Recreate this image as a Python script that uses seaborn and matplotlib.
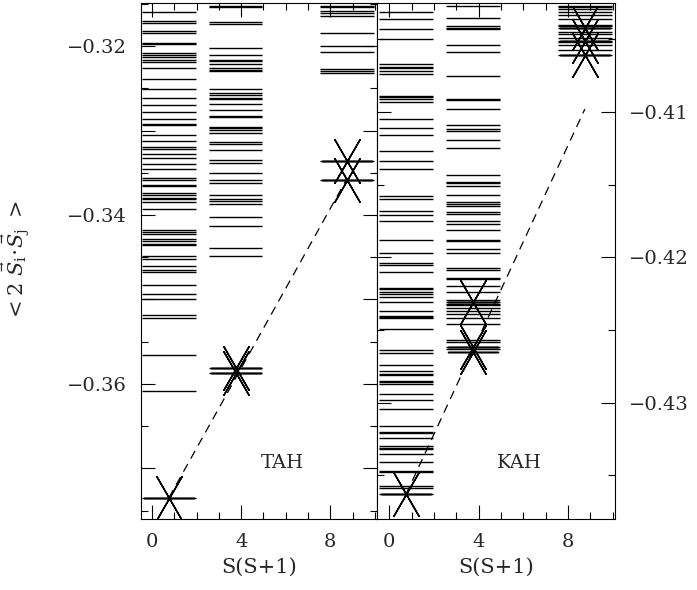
import numpy as np
import pandas as pd
import matplotlib
matplotlib.use('Agg')
import matplotlib.pyplot as plt
from matplotlib.ticker import MultipleLocator
import seaborn as sns

# S(S+1) for S = 1/2, 3/2, 5/2
ss1 = [0.75, 3.75, 8.75]

# energy levels <2 Si.Sj>, TAH (left panel)
tah_s0 = [-0.3160, -0.3170, -0.3173, -0.3182, -0.3185, -0.3196, -0.3197, -0.3208, -0.3211,
          -0.3213, -0.3217, -0.3219, -0.3226, -0.3239, -0.3251, -0.3261, -0.3270, -0.3278,
          -0.3286, -0.3292, -0.3294, -0.3305, -0.3312, -0.3320, -0.3322, -0.3328, -0.3332,
          -0.3340, -0.3346, -0.3356, -0.3359, -0.3364, -0.3366, -0.3374, -0.3376, -0.3380,
          -0.3381, -0.3385, -0.3393, -0.3418, -0.3420, -0.3423, -0.3429, -0.3431, -0.3434,
          -0.3436, -0.3449, -0.3452, -0.3461, -0.3465, -0.3467, -0.3483, -0.3493, -0.3500,
          -0.3518, -0.3522, -0.3566, -0.3608, -0.3735]
tah_s1 = [-0.3152, -0.3154, -0.3172, -0.3174, -0.3202, -0.3210, -0.3216, -0.3218, -0.3221,
          -0.3226, -0.3228, -0.3230, -0.3251, -0.3255, -0.3258, -0.3261, -0.3263, -0.3269,
          -0.3276, -0.3283, -0.3284, -0.3296, -0.3297, -0.3299, -0.3303, -0.3314, -0.3316,
          -0.3323, -0.3335, -0.3339, -0.3350, -0.3359, -0.3362, -0.3376, -0.3381, -0.3383,
          -0.3387, -0.3402, -0.3413, -0.3439, -0.3448, -0.3581, -0.3587]
tah_s2 = [-0.3152, -0.3154, -0.3158, -0.3161, -0.3164, -0.3185, -0.3200, -0.3207, -0.3227,
          -0.3230, -0.3232, -0.3336, -0.3359]

# energy levels, KAH (right panel)
kah_s0 = [-0.4031, -0.4036, -0.4043, -0.4050, -0.4067, -0.4069, -0.4070, -0.4072, -0.4074,
          -0.4089, -0.4090, -0.4091, -0.4093, -0.4105, -0.4111, -0.4116, -0.4127, -0.4134,
          -0.4139, -0.4158, -0.4160, -0.4168, -0.4171, -0.4175, -0.4188, -0.4197, -0.4204,
          -0.4205, -0.4210, -0.4221, -0.4222, -0.4224, -0.4225, -0.4227, -0.4231, -0.4237,
          -0.4240, -0.4241, -0.4242, -0.4249, -0.4264, -0.4266, -0.4274, -0.4278, -0.4280,
          -0.4281, -0.4285, -0.4286, -0.4287, -0.4294, -0.4298, -0.4304, -0.4316, -0.4320,
          -0.4321, -0.4324, -0.4330, -0.4331, -0.4332, -0.4335, -0.4341, -0.4347, -0.4348,
          -0.4357, -0.4359, -0.4363]
kah_s1 = [-0.4027, -0.4035, -0.4041, -0.4042, -0.4043, -0.4054, -0.4059, -0.4075, -0.4091,
          -0.4092, -0.4098, -0.4109, -0.4112, -0.4113, -0.4119, -0.4125, -0.4143, -0.4148,
          -0.4149, -0.4151, -0.4157, -0.4162, -0.4163, -0.4165, -0.4169, -0.4170, -0.4175,
          -0.4177, -0.4181, -0.4188, -0.4189, -0.4194, -0.4197, -0.4207, -0.4209, -0.4214,
          -0.4215, -0.4220, -0.4224, -0.4229, -0.4231, -0.4232, -0.4233, -0.4235, -0.4237,
          -0.4239, -0.4242, -0.4246, -0.4257, -0.4258, -0.4262, -0.4263]
kah_s2 = [-0.4027, -0.4028, -0.4029, -0.4031, -0.4033, -0.4036, -0.4040, -0.4041, -0.4042,
          -0.4045, -0.4046, -0.4049, -0.4051, -0.4052, -0.4054, -0.4057, -0.4061]

# lowest level of each S (stars)
tah_star_x = [0.75, 3.75, 3.75, 8.75, 8.75]
tah_star_y = [-0.3735, -0.3581, -0.3587, -0.3336, -0.3359]
kah_star_x = [0.75, 3.75, 3.75, 3.75, 8.75, 8.75, 8.75]
kah_star_y = [-0.4363, -0.4231, -0.4262, -0.4265, -0.4042, -0.4051, -0.4061]

# dashed lines
tah_line_x = [0.75, 8.75]
tah_line_y = [-0.3735, -0.3357]
kah_line_x = [0.75, 8.75]
kah_line_y = [-0.4363, -0.4098]

tah_yticks = [-0.37, -0.36, -0.35, -0.34, -0.33, -0.32]
tah_yticklabels = ['', '\u22120.36', '', '\u22120.34', '', '\u22120.32']
kah_yticks = [-0.43, -0.42, -0.41]
kah_yticklabels = ['\u22120.43', '\u22120.42', '\u22120.41']
xticks = [0, 4, 8]
xticklabels = ['0', '4', '8']

sns.set_style('ticks')
plt.rcParams['font.family'] = ['DejaVu Serif']
plt.rcParams['mathtext.fontset'] = 'dejavuserif'

fig = plt.figure(figsize=(6.97, 5.9), dpi=100)
ax1 = fig.add_axes([141 / 697, 1 - 519 / 590, 236 / 697, 516 / 590])
ax2 = fig.add_axes([377 / 697, 1 - 519 / 590, 238 / 697, 516 / 590])

star = (6, 2, 30)
halfw = 1.2

panels = [
    (ax1, [tah_s0, tah_s1, tah_s2], tah_star_x, tah_star_y, tah_line_x, tah_line_y, 'TAH'),
    (ax2, [kah_s0, kah_s1, kah_s2], kah_star_x, kah_star_y, kah_line_x, kah_line_y, 'KAH'),
]

for ax, groups, sx, sy, lx, ly, name in panels:
    for xc, lev in zip(ss1, groups):
        ax.hlines(lev, xc - halfw, xc + halfw, color='black', lw=1.0)
    sns.scatterplot(x=sx, y=sy, ax=ax, marker=star, s=1296, color='black',
                    edgecolor='black', linewidth=1.1, zorder=3)
    sns.lineplot(x=lx, y=ly, ax=ax, color='black', lw=0.9, linestyle=(0, (7, 5)))
    ax.text(0.6, 0.108, name, transform=ax.transAxes, ha='center', va='center',
            fontsize=14)
    ax.set_xlim(-0.5, 10.1)
    ax.set_xticks(xticks, labels=xticklabels)
    ax.xaxis.set_minor_locator(MultipleLocator(1))
    ax.set_xlabel('S(S+1)', fontsize=15, labelpad=5)
    ax.tick_params(which='both', direction='in', top=True, bottom=True,
                   left=True, right=True, labelsize=14, color='black', width=0.8)
    ax.tick_params(which='major', length=10, pad=10)
    ax.tick_params(which='minor', length=5)
    ax.yaxis.set_minor_locator(MultipleLocator(0.005))
    for sp in ax.spines.values():
        sp.set_color('black')
        sp.set_linewidth(0.8)

ax1.set_ylim(-0.376, -0.3149)
ax1.set_yticks(tah_yticks, labels=tah_yticklabels)
ax1.set_ylabel(r'${<}2\ \vec{S}_{\rm i}\!\cdot\!\vec{S}_{\rm j}\ {>}$', fontsize=15)
ax1.yaxis.set_label_coords(-0.46, 0.5)

ax2.set_xlim(-0.55, 10.1)
ax2.set_ylim(-0.438, -0.4025)
ax2.set_yticks(kah_yticks, labels=kah_yticklabels)
ax2.tick_params(axis='y', labelleft=False, labelright=True)

fig.savefig('out.png', dpi=100)
